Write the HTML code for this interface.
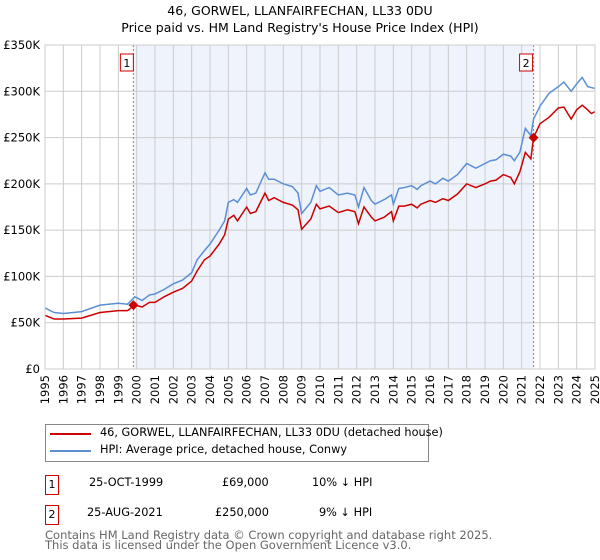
<!DOCTYPE html>
<html><head><meta charset="utf-8"><style>
body{margin:0;background:#fff;font-family:"DejaVu Sans","Liberation Sans",sans-serif}
#wrap{position:relative;width:600px;height:560px;overflow:hidden}
.t{position:absolute;font-size:12px;color:#000;white-space:nowrap}
.box{position:absolute;border:1px solid #c00;width:12px;height:18px;font-size:11px;text-align:center;line-height:18px}
svg text{font-family:"DejaVu Sans","Liberation Sans",sans-serif}
</style></head><body><div id="wrap">
<div class="t" style="left:0;width:600px;text-align:center;top:3px;font-size:12.5px">46, GORWEL, LLANFAIRFECHAN, LL33 0DU</div>
<div class="t" style="left:0;width:600px;text-align:center;top:20px;font-size:12.5px">Price paid vs. HM Land Registry's House Price Index (HPI)</div>
<svg id="c" width="600" height="420" style="position:absolute;left:0;top:0"></svg>
<div style="position:absolute;left:45px;top:424px;width:382px;height:36px;border:1px solid #888"></div>
<div style="position:absolute;left:50px;top:433px;width:41px;height:2px;background:#c00"></div>
<div class="t" style="left:100px;top:426px;font-size:11.3px">46, GORWEL, LLANFAIRFECHAN, LL33 0DU (detached house)</div>
<div style="position:absolute;left:50px;top:450px;width:41px;height:2px;background:#5b8fd4"></div>
<div class="t" style="left:100px;top:443px;font-size:11.3px">HPI: Average price, detached house, Conwy</div>
<div class="box" style="left:45px;top:475px">1</div>
<div class="t" style="left:89px;top:476px;font-size:11.3px">25-OCT-1999</div>
<div class="t" style="left:222px;top:476px;font-size:11.3px">£69,000</div>
<div class="t" style="left:312px;top:476px;font-size:11.3px">10% ↓ HPI</div>
<div class="box" style="left:45px;top:505px">2</div>
<div class="t" style="left:87px;top:506px;font-size:11.3px">25-AUG-2021</div>
<div class="t" style="left:215px;top:506px;font-size:11.3px">£250,000</div>
<div class="t" style="left:319px;top:506px;font-size:11.3px">9% ↓ HPI</div>
<div class="t" style="left:45px;top:530px;font-size:11.5px;color:#666;line-height:10px">Contains HM Land Registry data © Crown copyright and database right 2025.<br>This data is licensed under the Open Government Licence v3.0.</div>
</div>
<script>
const hpiYears=[1995,1995.5,1996,1997,1998,1999,1999.5,1999.9,2000.3,2000.7,2001,2001.5,2002,2002.5,2003,2003.3,2003.7,2004,2004.5,2004.8,2005,2005.3,2005.5,2006,2006.2,2006.5,2007,2007.2,2007.5,2008,2008.5,2008.8,2009,2009.5,2009.8,2010,2010.5,2011,2011.5,2011.9,2012.1,2012.4,2012.8,2013,2013.5,2013.9,2014,2014.3,2014.6,2015,2015.3,2015.5,2016,2016.3,2016.7,2017,2017.5,2018,2018.5,2019,2019.3,2019.6,2020,2020.4,2020.6,2020.9,2021.2,2021.5,2021.65,2022,2022.5,2023,2023.3,2023.7,2024,2024.3,2024.6,2024.8,2025];
const hpiValues=[66,61,60,62,69,71,70,78,74,80,81,86,92,96,104,118,128,135,150,160,180,183,180,195,188,190,212,205,205,200,197,190,168,180,198,192,196,188,190,188,175,196,182,178,183,188,178,195,196,198,194,198,203,200,206,203,210,222,217,222,225,226,232,230,225,234,260,252,270,284,298,305,310,300,308,315,305,304,303];
const priceValues=[58,54,54,55,61,63,63,69,67,72,72,78,83,87,95,106,118,122,135,145,162,166,160,175,168,170,190,182,185,180,177,172,151,162,178,173,176,169,172,170,157,175,164,160,164,170,160,176,176,178,174,178,182,180,184,182,189,200,196,200,203,204,210,207,200,213,234,227,250,265,272,282,283,270,280,285,280,276,278];
const saleYears=[1999.82,2021.65];
const saleValues=[69,250];
const saleLabels=["1","2"];
const yTicks=[0,50,100,150,200,250,300,350];
const yTickLabels=["£0","£50K","£100K","£150K","£200K","£250K","£300K","£350K"];
const xTicks=[1995,1996,1997,1998,1999,2000,2001,2002,2003,2004,2005,2006,2007,2008,2009,2010,2011,2012,2013,2014,2015,2016,2017,2018,2019,2020,2021,2022,2023,2024,2025];
const X0=45,X1=595,Y0=369,Y1=45;
const x=v=>X0+(v-1995)/30*(X1-X0);
const y=v=>Y0-v/350*(Y0-Y1);
const svg=document.getElementById('c');const NS='http://www.w3.org/2000/svg';
function mk(t,a,p){const e=document.createElementNS(NS,t);for(const k in a)e.setAttribute(k,a[k]);(p||svg).appendChild(e);return e;}
const sh=mk('rect',{x:x(saleYears[0]),y:Y1,width:x(saleYears[1])-x(saleYears[0]),height:Y0-Y1,fill:'#eef3fc'});


xTicks.forEach(t=>{const l=mk('line',{x1:x(t),x2:x(t),y1:Y1,y2:Y0,stroke:'#ccc'});


const tx=mk('text',{x:0,y:0,transform:`translate(${x(t)+4},${Y0+6}) rotate(-90)`,'text-anchor':'end','font-size':11.5,fill:'#000'});tx.textContent=t;

});
yTicks.forEach((t,i)=>{const l=mk('line',{x1:X0,x2:X1,y1:y(t),y2:y(t),stroke:'#ccc'});


const tx=mk('text',{x:40,y:y(t)+4,'text-anchor':'end','font-size':11.5,fill:'#000'});tx.textContent=yTickLabels[i];

});
saleYears.forEach((s,i)=>{const l=mk('line',{x1:x(s),x2:x(s),y1:Y1,y2:Y0,stroke:'#e06060','stroke-dasharray':'2,2'});


const r=mk('rect',{x:x(s)-13+( i?-1:0),y:54,width:13,height:17,fill:'#fff',stroke:'#c00'});


const tx=mk('text',{x:x(s)-6.5+(i?-1:0),y:67,'text-anchor':'middle','font-size':11});tx.textContent=saleLabels[i];

});
const hp=mk('polyline',{points:hpiYears.map((t,i)=>x(t)+','+y(hpiValues[i])).join(' '),fill:'none',stroke:'#5b8fd4','stroke-width':1.5});


const pp=mk('polyline',{points:hpiYears.map((t,i)=>x(t)+','+y(priceValues[i])).join(' '),fill:'none',stroke:'#c00','stroke-width':1.5});


saleYears.forEach((s,i)=>{const cx=x(s),cy=y(saleValues[i]);const d=mk('polygon',{points:`${cx},${cy-5} ${cx+5},${cy} ${cx},${cy+5} ${cx-5},${cy}`,fill:'#c00'});

});
const ax=mk('rect',{x:X0,y:Y1,width:X1-X0,height:Y0-Y1,fill:'none',stroke:'#ccc'});


</script></body></html>
